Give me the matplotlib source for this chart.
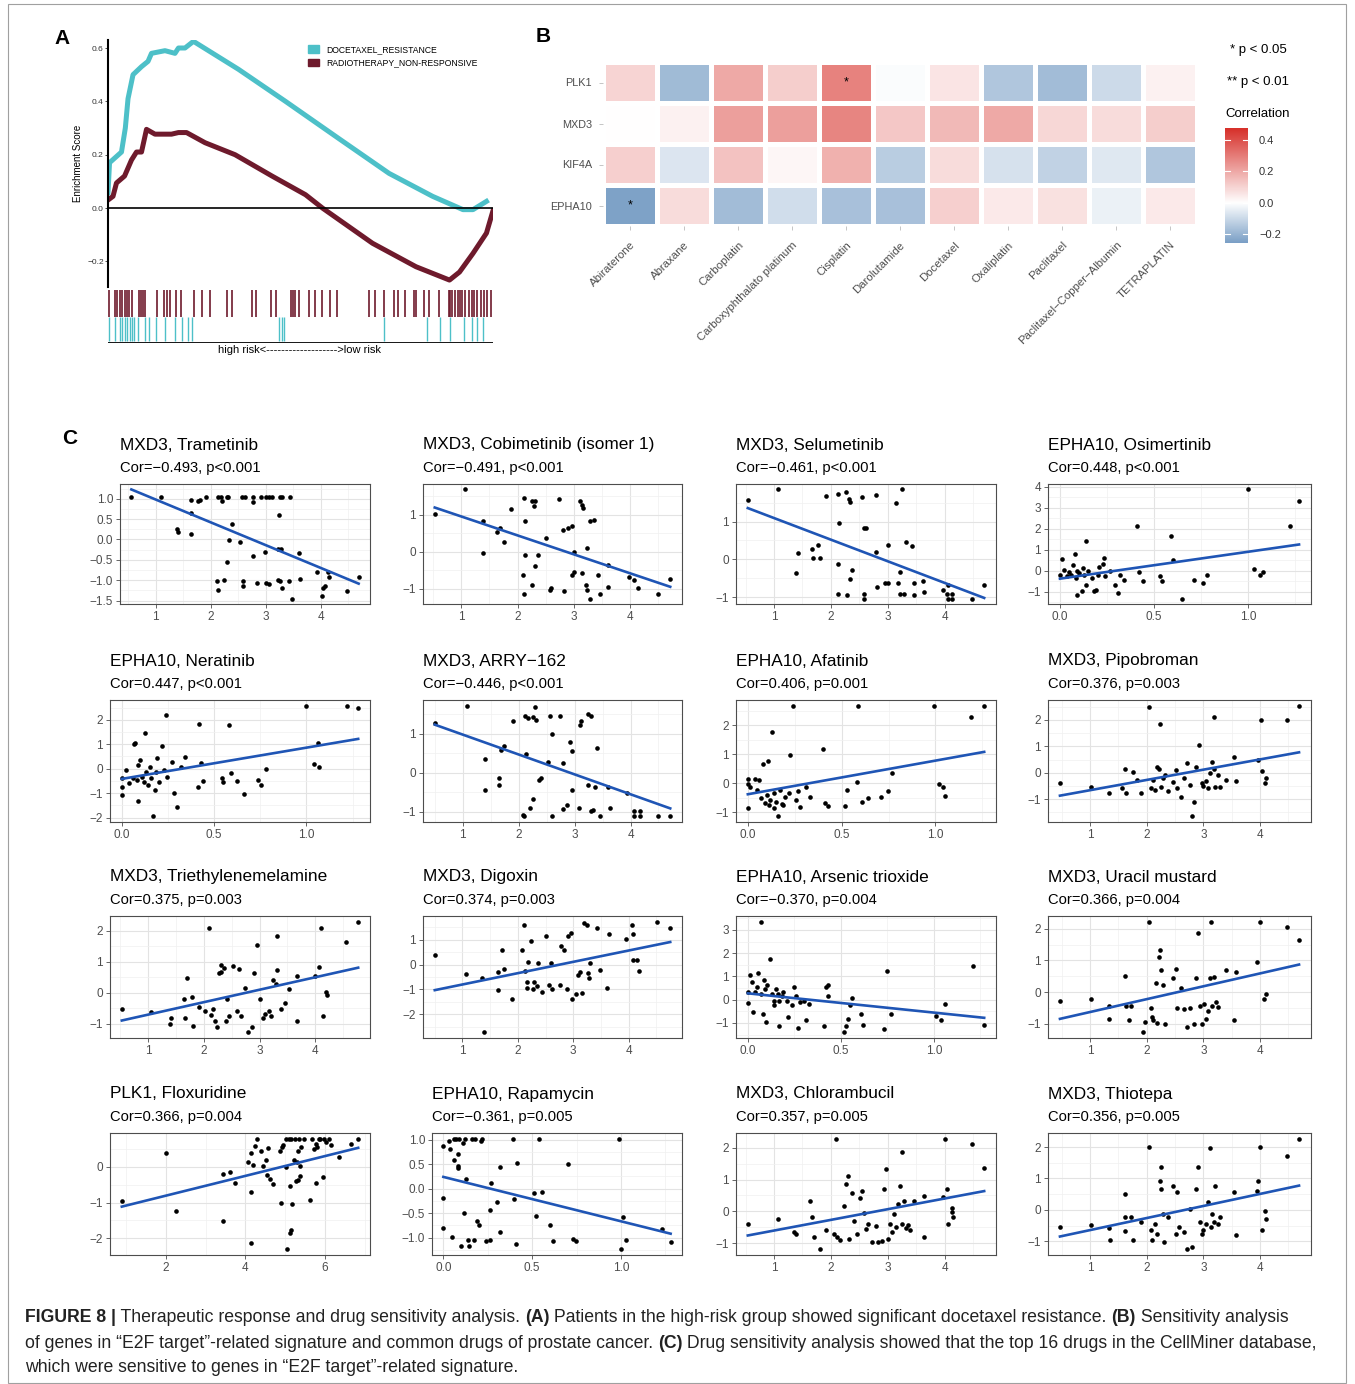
import numpy as np
import matplotlib
matplotlib.use('Agg')
import matplotlib.pyplot as plt
from matplotlib.colors import LinearSegmentedColormap, Normalize
from matplotlib.patches import Patch, Rectangle
from matplotlib.ticker import AutoMinorLocator

plt.rcParams['font.family'] = ['Liberation Sans', 'DejaVu Sans']

W, H = 1355, 1384

# ---------------- panel A data (GSEA running score) ----------------
cyan_x = [0, .004, .035, .045, .052, .065, .087, .104, .113, .148, .174, .183, .200, .222,
          .339, .461, .600, .730, .843, .922, .948, .983]
cyan_y = [0.057, 0.17, 0.21, 0.30, 0.41, 0.50, 0.53, 0.55, 0.58, 0.59, 0.58, 0.60, 0.60, 0.625,
          0.52, 0.40, 0.26, 0.13, 0.044, -0.006, -0.006, 0.025]
maroon_x = [0, .013, .022, .043, .061, .074, .087, .100, .122, .165, .183, .204, .252, .330,
            .426, .513, .557, .687, .800, .887, .913, .948, .983, 1.0]
maroon_y = [0.03, 0.044, 0.094, 0.12, 0.18, 0.21, 0.21, 0.295, 0.277, 0.277, 0.283, 0.283, 0.245,
            0.20, 0.12, 0.05, 0.0, -0.132, -0.22, -0.27, -0.24, -0.17, -0.094, -0.01]
maroon_hits = [0.000, 0.016, 0.022, 0.029, 0.035, 0.042, 0.048, 0.054, 0.061, 0.078, 0.083, 0.089,
               0.094, 0.126, 0.145, 0.152, 0.159, 0.176, 0.189, 0.222, 0.243, 0.263, 0.309, 0.322,
               0.374, 0.383, 0.424, 0.435, 0.474, 0.480, 0.485, 0.496, 0.523, 0.537, 0.557, 0.578,
               0.594, 0.678, 0.694, 0.717, 0.743, 0.755, 0.772, 0.796, 0.800, 0.822, 0.835, 0.861,
               0.887, 0.891, 0.896, 0.904, 0.911, 0.917, 0.922, 0.930, 0.939, 0.946, 0.952, 0.961,
               0.970, 0.978, 0.987, 0.996]
cyan_hits = [0.000, 0.016, 0.029, 0.035, 0.042, 0.048, 0.055, 0.061, 0.067, 0.076, 0.094, 0.106,
             0.123, 0.146, 0.174, 0.191, 0.206, 0.216, 0.445, 0.452, 0.458, 0.717, 0.830, 0.865,
             0.889, 0.926, 0.946, 0.961, 0.977]
gsea_names = ['DOCETAXEL_RESISTANCE', 'RADIOTHERAPY_NON-RESPONSIVE']

# ---------------- panel B data (correlation heatmap) ----------------
genes = ['PLK1', 'MXD3', 'KIF4A', 'EPHA10']
drugs = ['Abiraterone', 'Abraxane', 'Carboplatin', 'Carboxyphthalato platinum', 'Cisplatin',
         'Darolutamide', 'Docetaxel', 'Oxaliplatin', 'Paclitaxel', 'Paclitaxel\u2212Copper\u2212Albumin',
         'TETRAPLATIN']
corr = [
    [0.10, -0.185, 0.20, 0.115, 0.29, -0.01, 0.06, -0.155, -0.18, -0.10, 0.03],
    [0.0, 0.03, 0.22, 0.22, 0.28, 0.13, 0.16, 0.20, 0.09, 0.08, 0.115],
    [0.11, -0.07, 0.14, 0.02, 0.18, -0.135, 0.08, -0.08, -0.12, -0.06, -0.155],
    [-0.25, 0.08, -0.18, -0.09, -0.17, -0.17, 0.11, 0.05, 0.07, -0.04, 0.05],
]
stars = [(0, 4, '*'), (3, 0, '*')]
corr_lo, corr_hi = -0.257, 0.476

# ---------------- panel C data (scatter plots) ----------------
titles = ['MXD3, Trametinib', 'MXD3, Cobimetinib (isomer 1)', 'MXD3, Selumetinib', 'EPHA10, Osimertinib',
          'EPHA10, Neratinib', 'MXD3, ARRY\u2212162', 'EPHA10, Afatinib', 'MXD3, Pipobroman',
          'MXD3, Triethylenemelamine', 'MXD3, Digoxin', 'EPHA10, Arsenic trioxide', 'MXD3, Uracil mustard',
          'PLK1, Floxuridine', 'EPHA10, Rapamycin', 'MXD3, Chlorambucil', 'MXD3, Thiotepa']
subtitles = ['Cor=\u22120.493, p<0.001', 'Cor=\u22120.491, p<0.001', 'Cor=\u22120.461, p<0.001',
             'Cor=0.448, p<0.001', 'Cor=0.447, p<0.001', 'Cor=\u22120.446, p<0.001',
             'Cor=0.406, p=0.001', 'Cor=0.376, p=0.003', 'Cor=0.375, p=0.003', 'Cor=0.374, p=0.003',
             'Cor=\u22120.370, p=0.004', 'Cor=0.366, p=0.004', 'Cor=0.366, p=0.004',
             'Cor=\u22120.361, p=0.005', 'Cor=0.357, p=0.005', 'Cor=0.356, p=0.005']
xticks = [[1, 2, 3, 4], [1, 2, 3, 4], [1, 2, 3, 4], [0, 0.5, 1.0],
          [0, 0.5, 1.0], [1, 2, 3, 4], [0, 0.5, 1.0], [1, 2, 3, 4],
          [1, 2, 3, 4], [1, 2, 3, 4], [0, 0.5, 1.0], [1, 2, 3, 4],
          [2, 4, 6], [0, 0.5, 1.0], [1, 2, 3, 4], [1, 2, 3, 4]]
yticks = [[-1.5, -1.0, -0.5, 0.0, 0.5, 1.0], [-1, 0, 1], [-1, 0, 1], [-1, 0, 1, 2, 3, 4],
          [-2, -1, 0, 1, 2], [-1, 0, 1], [-1, 0, 1, 2], [-1, 0, 1, 2],
          [-1, 0, 1, 2], [-2, -1, 0, 1], [-1, 0, 1, 2, 3], [-1, 0, 1, 2],
          [-2, -1, 0], [-1.0, -0.5, 0.0, 0.5, 1.0], [-1, 0, 1, 2], [-1, 0, 1, 2]]

pts = [
    # 1 Trametinib
    [(0.56, 1.04), (1.09, 1.04), (1.65, 0.97), (1.78, 0.94), (1.81, 0.98), (1.92, 1.04), (2.14, 1.04),
     (2.18, 1.04), (2.2, 0.94), (2.29, 1.04), (2.32, 1.04), (2.57, 1.04), (2.62, 1.04), (2.77, 1.04),
     (2.77, 0.93), (2.92, 1.04), (3.0, 1.04), (3.07, 1.04), (3.11, 1.04), (3.26, 1.04), (3.29, 1.04),
     (3.44, 1.04), (1.65, 0.64), (1.39, 0.26), (1.4, 0.18), (1.65, 0.14), (2.39, 0.38), (2.33, -0.01),
     (2.54, -0.06), (3.25, 0.60), (3.23, -0.23), (3.28, -0.23), (2.98, -0.31), (2.77, -0.41),
     (2.29, -0.56), (3.61, -0.33), (2.12, -1.03), (2.24, -0.99), (2.14, -1.25), (2.59, -1.02),
     (2.58, -1.15), (2.84, -1.07), (3.0, -1.07), (3.06, -1.09), (3.23, -0.99), (3.26, -1.03),
     (3.29, -1.19), (3.43, -1.03), (3.47, -1.45), (3.62, -0.98), (3.94, -0.81), (4.05, -1.18),
     (4.07, -1.14), (4.03, -1.38), (4.14, -0.81), (4.16, -0.91), (4.48, -1.27), (4.69, -0.91)],
    # 2 Cobimetinib
    [(0.53, 1.02), (1.07, 1.68), (1.39, 0.84), (1.39, -0.03), (1.64, 0.53), (1.69, 0.64), (1.76, 0.27),
     (1.89, 1.15), (2.11, 1.44), (2.14, 0.82), (2.26, 1.36), (2.29, 1.23), (2.31, 1.36), (2.51, 0.36),
     (2.74, 1.41), (2.8, 0.58), (2.89, 0.64), (2.96, 0.68), (3.0, 0.0), (3.1, 1.38), (3.14, 1.25),
     (3.17, 1.18), (3.24, 0.11), (3.29, 0.82), (3.36, 0.86), (2.11, -1.14), (2.1, -0.64), (2.14, -0.09),
     (2.26, -0.91), (2.31, -0.38), (2.37, -0.09), (2.57, -1.05), (2.6, -0.98), (2.83, -1.06),
     (2.96, -0.64), (3.01, -0.55), (3.14, -0.59), (3.21, -0.91), (3.24, -1.05), (3.29, -1.27),
     (3.46, -1.15), (3.43, -0.64), (3.61, -0.35), (3.61, -0.96), (3.97, -0.68), (4.07, -0.78),
     (4.14, -0.98), (4.5, -1.14), (4.71, -0.75)],
    # 3 Selumetinib
    [(0.54, 1.58), (1.07, 1.85), (1.38, -0.37), (1.42, 0.16), (1.66, 0.28), (1.68, 0.03), (1.8, 0.03),
     (1.77, 0.38), (1.92, 1.67), (2.13, 1.74), (2.14, 0.96), (2.13, -0.13), (2.13, -0.91), (2.27, 1.79),
     (2.31, 1.61), (2.34, 1.52), (2.37, -0.28), (2.34, -0.51), (2.28, -0.95), (2.55, 1.65), (2.58, 0.83),
     (2.62, 0.84), (2.58, -0.91), (2.58, -1.04), (2.79, 1.7), (2.79, 0.2), (2.8, -0.73), (2.94, -0.64),
     (3.0, 0.38), (3.0, -0.64), (3.14, 1.49), (3.17, -0.64), (3.25, 1.85), (3.21, -0.33), (3.21, -0.91),
     (3.28, -0.93), (3.31, 0.47), (3.42, 0.34), (3.45, -0.64), (3.46, -0.95), (3.61, -0.58),
     (3.63, -0.86), (3.96, -0.82), (4.03, -0.93), (4.06, -0.68), (4.06, -1.04), (4.13, -0.93),
     (4.13, -1.04), (4.48, -1.04), (4.69, -0.67)],
    # 4 Osimertinib
    [(0.0, -0.19), (0.01, 0.57), (0.02, 0.05), (0.04, -0.27), (0.05, -0.06), (0.06, -0.19), (0.07, 0.28),
     (0.08, 0.79), (0.085, -0.35), (0.09, -0.03), (0.09, -1.13), (0.1, -0.11), (0.115, -0.98),
     (0.12, 0.13), (0.13, -0.19), (0.14, 1.42), (0.14, -0.66), (0.15, -0.03), (0.17, -0.35),
     (0.18, -0.98), (0.19, -0.9), (0.2, -0.19), (0.21, 0.16), (0.23, 0.31), (0.235, 0.63), (0.24, -0.27),
     (0.265, -0.03), (0.29, -0.66), (0.31, -1.06), (0.32, -0.19), (0.34, -0.43), (0.41, 2.14),
     (0.42, -0.06), (0.44, -0.47), (0.53, -0.27), (0.54, -0.47), (0.59, 1.67), (0.6, 0.52), (0.65, -1.32),
     (0.71, -0.43), (0.76, -0.58), (0.78, -0.19), (1.0, 3.87), (1.03, 0.08), (1.06, -0.19),
     (1.08, -0.08), (1.22, 2.14), (1.27, 3.3)],
    # 5 Neratinib
    [(0.0, -0.39), (0.0, -0.73), (0.0, -1.07), (0.02, -0.05), (0.04, -0.59), (0.06, -0.39), (0.065, 1.0),
     (0.07, 1.03), (0.08, -0.46), (0.09, 0.15), (0.09, -1.3), (0.1, 0.35), (0.11, -0.35), (0.12, -0.53),
     (0.125, 1.46), (0.13, -0.12), (0.14, -0.66), (0.15, 0.08), (0.16, -0.39), (0.17, -1.95),
     (0.18, -0.86), (0.185, -0.12), (0.19, 0.42), (0.2, -0.53), (0.215, 0.92), (0.23, -0.05),
     (0.24, 2.18), (0.245, -0.32), (0.27, 0.28), (0.28, -1.0), (0.3, -1.57), (0.32, 0.05), (0.34, 0.49),
     (0.41, -0.73), (0.42, 1.81), (0.43, 0.24), (0.44, -0.49), (0.54, -0.39), (0.55, -0.53),
     (0.58, 1.77), (0.59, -0.19), (0.625, -0.49), (0.66, -1.03), (0.74, -0.46), (0.755, -0.66),
     (0.78, -0.03), (1.0, 2.58), (1.04, 0.19), (1.06, 1.03), (1.07, 0.08), (1.22, 2.58), (1.28, 2.49)],
    # 6 ARRY-162
    [(0.5, 1.28), (1.07, 1.73), (1.39, -0.43), (1.4, 0.35), (1.64, -0.12), (1.64, -0.31), (1.69, 0.6),
     (1.74, 0.68), (1.89, 1.34), (2.07, -1.08), (2.09, -1.12), (2.11, 1.47), (2.14, 0.49), (2.17, 1.41),
     (2.21, -0.89), (2.26, -0.66), (2.26, 1.43), (2.29, 1.7), (2.31, 1.36), (2.37, -0.19), (2.4, -0.14),
     (2.53, 0.28), (2.56, 1.47), (2.6, 1.0), (2.6, -1.12), (2.79, -0.94), (2.79, 0.26), (2.74, 1.47),
     (2.86, -0.83), (2.91, 0.79), (2.96, 0.56), (2.96, -0.43), (3.07, -0.91), (3.09, 1.22), (3.11, 1.33),
     (3.24, 1.51), (3.29, 1.47), (3.24, -0.31), (3.29, -0.97), (3.33, -0.95), (3.36, -0.36),
     (3.4, 0.65), (3.46, -1.11), (3.6, -0.36), (3.64, -0.91), (3.94, -0.51), (4.07, -0.97),
     (4.07, -1.12), (4.17, -0.97), (4.17, -1.12), (4.5, -1.12), (4.71, -1.12)],
    # 7 Afatinib
    [(0.0, -0.86), (0.0, -0.02), (0.0, 0.14), (0.01, -0.14), (0.04, 0.14), (0.05, -0.23), (0.06, 0.11),
     (0.07, -0.51), (0.08, 0.66), (0.09, -0.68), (0.1, -0.4), (0.11, 0.76), (0.115, -0.74),
     (0.12, -0.57), (0.13, 1.77), (0.14, -0.86), (0.14, -0.34), (0.15, -0.63), (0.16, -1.14),
     (0.17, -0.23), (0.18, -0.72), (0.19, -0.74), (0.2, -0.46), (0.22, -0.34), (0.225, 0.97),
     (0.24, 2.65), (0.255, -0.57), (0.27, -0.28), (0.28, -0.8), (0.31, -0.11), (0.33, -0.46), (0.4, 1.2),
     (0.41, -0.68), (0.425, -0.78), (0.52, -0.78), (0.53, -0.23), (0.58, 0.06), (0.59, 2.65),
     (0.61, -0.63), (0.64, -0.51), (0.71, -0.48), (0.745, -0.28), (0.77, 0.34), (0.99, 2.68),
     (1.02, -0.02), (1.04, -0.11), (1.05, -0.43), (1.19, 2.3), (1.26, 2.68)],
    # 8 Pipobroman
    [(0.47, -0.4), (1.01, -0.53), (1.33, -0.75), (1.57, -0.59), (1.61, 0.16), (1.64, -0.78), (1.76, 0.04),
     (1.83, -0.28), (1.9, -0.78), (2.04, 2.5), (2.07, -0.59), (2.11, -0.28), (2.14, -0.65), (2.19, 0.2),
     (2.21, 0.13), (2.23, 1.85), (2.26, -0.53), (2.29, -0.21), (2.33, -0.09), (2.37, -0.68),
     (2.47, -0.34), (2.51, 0.1), (2.54, -0.59), (2.61, -0.9), (2.66, -0.21), (2.71, 0.38), (2.76, -0.46),
     (2.8, -1.65), (2.83, -1.09), (2.87, 0.2), (2.93, 1.04), (2.97, -0.38), (3.0, -0.5), (3.04, -0.3),
     (3.09, -0.59), (3.11, -0.02), (3.16, 0.41), (3.19, 2.1), (3.19, 0.16), (3.21, -0.53), (3.26, -0.09),
     (3.29, -0.53), (3.4, -0.28), (3.54, 0.6), (3.57, -0.3), (3.97, 0.48), (4.01, 2.0), (4.04, 0.06),
     (4.09, -0.38), (4.11, -0.21), (4.47, 1.98), (4.69, 2.54)],
    # 9 Triethylenemelamine
    [(0.53, -0.53), (1.06, -0.62), (1.39, -1.01), (1.41, -0.83), (1.64, -0.19), (1.67, -0.8), (1.7, 0.48),
     (1.79, -0.13), (1.81, -1.06), (1.91, -0.45), (2.03, -0.59), (2.1, 2.07), (2.13, -0.72), (2.17, -0.51),
     (2.2, -0.9), (2.24, -1.12), (2.27, 0.64), (2.31, 0.9), (2.31, 0.66), (2.36, 0.8), (2.39, -0.9),
     (2.41, -0.19), (2.46, -0.74), (2.53, 0.87), (2.6, -0.59), (2.63, 0.77), (2.67, -0.74), (2.74, 0.16),
     (2.79, -1.28), (2.86, -1.12), (2.91, 0.62), (2.96, 1.54), (3.0, -0.21), (3.06, -0.8), (3.1, -0.69),
     (3.17, -0.59), (3.21, -0.74), (3.24, 0.4), (3.29, 0.27), (3.31, 1.81), (3.31, 0.72), (3.39, -0.53),
     (3.46, -0.32), (3.53, 0.13), (3.67, -0.9), (3.67, 0.53), (4.0, 0.53), (4.07, 0.83), (4.1, 2.07),
     (4.13, -0.74), (4.2, 0.02), (4.21, -0.09), (4.56, 1.62), (4.77, 2.29)],
    # 10 Digoxin
    [(0.5, 0.4), (1.07, -0.37), (1.36, -0.53), (1.39, -2.73), (1.65, -0.31), (1.65, -1.03), (1.72, 0.57),
     (1.75, -0.17), (1.89, -1.37), (2.08, 0.57), (2.11, 1.6), (2.13, -0.27), (2.16, -0.71), (2.16, -0.93),
     (2.19, 0.09), (2.23, 0.93), (2.27, -1.0), (2.29, -0.71), (2.34, -0.87), (2.37, 0.07), (2.44, -1.11),
     (2.51, 1.16), (2.56, -0.84), (2.59, 0.07), (2.62, -1.0), (2.76, -0.84), (2.77, 0.73), (2.83, 0.6),
     (2.88, -0.97), (2.91, 1.13), (2.95, 1.27), (2.98, -1.4), (3.05, -1.2), (3.09, -0.4), (3.13, -0.31),
     (3.16, -1.13), (3.19, 1.69), (3.24, 1.6), (3.26, -0.33), (3.28, -0.56), (3.31, 0.07), (3.42, 1.47),
     (3.48, -0.2), (3.6, -0.93), (3.64, 1.24), (3.96, 1.03), (4.06, 1.6), (4.08, 1.23), (4.08, 0.2),
     (4.15, 0.2), (4.18, -0.27), (4.51, 1.73), (4.75, 1.47)],
    # 11 Arsenic trioxide
    [(0.0, 0.35), (0.0, -0.14), (0.01, 1.04), (0.02, 0.75), (0.03, -0.53), (0.04, 0.35), (0.05, 0.55),
     (0.056, 1.14), (0.07, 3.36), (0.07, 0.25), (0.08, -0.63), (0.085, 0.84), (0.09, 0.45), (0.1, -0.96),
     (0.105, 0.61), (0.12, 1.75), (0.13, 0.25), (0.14, -0.04), (0.14, -0.24), (0.15, 0.45), (0.16, 0.25),
     (0.17, -0.04), (0.17, -1.12), (0.185, 0.16), (0.19, 0.35), (0.21, -0.04), (0.215, -0.73),
     (0.24, -0.24), (0.25, 0.55), (0.26, 0.16), (0.27, -1.22), (0.28, -0.1), (0.3, -0.04), (0.31, -0.88),
     (0.33, -0.18), (0.41, -1.12), (0.42, 0.55), (0.43, 0.16), (0.43, 0.65), (0.515, -1.41),
     (0.53, -1.12), (0.54, -0.82), (0.55, -0.24), (0.56, 0.06), (0.61, -0.63), (0.62, -1.08),
     (0.73, -1.27), (0.75, 1.24), (0.77, -0.63), (1.01, -0.69), (1.04, -0.88), (1.06, -0.18),
     (1.21, 1.45), (1.27, -1.1)],
    # 12 Uracil mustard
    [(0.47, -0.27), (1.01, -0.21), (1.33, -0.43), (1.33, -0.85), (1.61, 0.51), (1.64, -0.43), (1.69, -0.9),
     (1.73, -0.43), (1.94, -1.28), (1.97, -0.94), (2.04, 2.23), (2.07, -0.51), (2.09, -0.8), (2.11, -0.9),
     (2.16, 0.27), (2.19, -0.98), (2.21, 1.12), (2.23, 1.33), (2.26, 0.69), (2.29, 0.21), (2.33, -1.01),
     (2.47, 0.43), (2.51, 0.74), (2.54, -0.51), (2.61, 0.13), (2.66, -0.53), (2.71, -1.12), (2.76, -0.51),
     (2.83, -1.01), (2.87, 0.43), (2.9, 1.86), (2.94, -0.43), (2.97, -1.01), (3.01, -0.37), (3.04, -0.85),
     (3.09, -0.59), (3.11, 0.43), (3.14, 2.23), (3.16, -0.43), (3.19, 0.48), (3.23, -0.32), (3.26, -0.48),
     (3.4, 0.69), (3.54, -0.9), (3.57, 0.64), (3.94, 0.96), (4.0, 2.23), (4.07, -0.21), (4.11, -0.05),
     (4.47, 2.07), (4.69, 1.65)],
    # 13 Floxuridine
    [(0.9, -0.97), (2.02, 0.4), (2.25, -1.24), (3.44, -0.19), (3.44, -1.52), (3.62, -0.14), (3.73, -0.44),
     (4.07, 0.14), (4.13, -0.7), (4.15, -2.13), (4.15, 0.4), (4.2, 0.05), (4.23, 0.58), (4.28, 0.8),
     (4.39, 0.44), (4.45, 0.03), (4.51, 0.19), (4.53, -0.23), (4.57, 0.54), (4.61, -0.33), (4.7, -0.47),
     (4.88, 0.44), (4.9, -1.0), (4.92, 0.56), (4.95, 0.61), (5.03, 0.0), (5.03, 0.8), (5.04, -2.32),
     (5.1, 0.8), (5.11, -0.54), (5.11, -1.85), (5.14, -1.78), (5.15, 0.8), (5.18, -1.05), (5.22, 0.19),
     (5.24, 0.8), (5.28, -0.4), (5.3, 0.14), (5.32, 0.44), (5.33, -0.38), (5.34, 0.8), (5.36, 0.03),
     (5.38, -0.25), (5.4, 0.56), (5.48, 0.8), (5.63, -0.94), (5.67, 0.8), (5.71, 0.5), (5.76, 0.66),
     (5.78, -0.44), (5.8, 0.56), (5.84, 0.78), (5.87, 0.8), (5.94, -0.28), (5.97, 0.8), (6.02, 0.7),
     (6.09, 0.8), (6.15, 0.63), (6.34, 0.28), (6.66, 0.66), (6.83, 0.8)],
    # 14 Rapamycin
    [(0.0, 0.87), (0.0, -0.19), (0.0, -0.81), (0.03, 0.98), (0.04, 0.81), (0.05, -0.98), (0.06, 1.02),
     (0.06, 0.59), (0.07, 1.02), (0.08, 0.46), (0.08, 0.41), (0.085, 0.7), (0.09, 1.02), (0.1, -1.17),
     (0.11, 0.93), (0.115, -0.5), (0.12, 1.02), (0.13, 0.19), (0.14, -1.04), (0.145, -1.17), (0.16, 1.02),
     (0.17, -1.04), (0.18, 1.02), (0.19, -0.67), (0.2, -0.74), (0.21, 0.98), (0.22, 1.02), (0.24, -1.07),
     (0.26, -1.04), (0.265, -0.44), (0.27, 0.11), (0.3, -0.28), (0.32, 0.43), (0.32, -0.89), (0.39, 1.02),
     (0.4, -0.21), (0.41, -1.13), (0.415, 0.52), (0.51, -0.09), (0.54, 1.02), (0.555, -0.07),
     (0.52, -0.56), (0.6, -0.74), (0.615, -1.07), (0.7, 0.5), (0.73, -1.02), (0.745, -1.07), (0.99, 1.02),
     (1.01, -0.58), (1.0, -1.24), (1.03, -1.05), (1.23, -0.82), (1.28, -1.08)],
    # 15 Chlorambucil
    [(0.54, -0.39), (1.07, -0.24), (1.35, -0.65), (1.38, -0.7), (1.63, 0.33), (1.66, -0.19), (1.7, -0.8),
     (1.8, -1.2), (1.92, -0.58), (2.06, -0.7), (2.08, 2.27), (2.11, -0.8), (2.15, -0.91), (2.23, 0.18),
     (2.27, 0.87), (2.3, 1.1), (2.32, -0.86), (2.37, 0.59), (2.41, -0.29), (2.46, -0.7), (2.51, 0.41),
     (2.54, 0.64), (2.58, -0.06), (2.61, -0.55), (2.65, -0.39), (2.72, -0.96), (2.79, -0.47),
     (2.83, -0.96), (2.89, -0.93), (2.93, 0.69), (2.96, 1.34), (3.0, -0.86), (3.04, -0.39), (3.07, -0.65),
     (3.11, -0.08), (3.14, -0.49), (3.17, 0.23), (3.21, 0.79), (3.24, -0.39), (3.25, 1.88), (3.28, 0.33),
     (3.31, -0.52), (3.35, -0.44), (3.39, -0.6), (3.45, 0.33), (3.63, 0.48), (3.63, -0.8), (3.96, 0.45),
     (4.03, 0.69), (4.06, -0.39), (4.13, 0.12), (4.13, -0.03), (4.15, -0.19), (4.01, 2.29), (4.48, 2.13),
     (4.69, 1.36)],
    # 16 Thiotepa
    [(0.47, -0.55), (1.01, -0.49), (1.33, -0.57), (1.36, -0.97), (1.61, 0.51), (1.61, -0.23), (1.61, -0.67),
     (1.73, -0.23), (1.76, -0.97), (1.9, -0.39), (2.04, 2.0), (2.07, -0.63), (2.09, -0.95), (2.14, -0.44),
     (2.19, -0.76), (2.23, 0.93), (2.26, 1.35), (2.26, 0.66), (2.29, -0.13), (2.31, -1.02), (2.37, -0.23),
     (2.47, 0.77), (2.51, -0.76), (2.54, 0.56), (2.57, -0.55), (2.66, -0.71), (2.71, -1.26), (2.76, 0.03),
     (2.8, -1.18), (2.87, 0.66), (2.9, 1.35), (2.94, -0.39), (2.97, -0.76), (3.0, -0.63), (3.04, -0.44),
     (3.09, 0.24), (3.11, 1.98), (3.14, -0.55), (3.16, -0.13), (3.19, -0.39), (3.21, 0.77), (3.26, -0.44),
     (3.3, -0.23), (3.54, 0.56), (3.57, -0.81), (3.94, 0.61), (3.97, 0.93), (4.0, 2.0), (4.04, -0.63),
     (4.09, -0.04), (4.11, -0.28), (4.47, 1.72), (4.69, 2.27)],
]

caption = [
    [('FIGURE 8 |', 'bold'), (' Therapeutic response and drug sensitivity analysis. ', 'normal'),
     ('(A)', 'bold'), (' Patients in the high-risk group showed significant docetaxel resistance. ', 'normal'),
     ('(B)', 'bold'), (' Sensitivity analysis', 'normal')],
    [('of genes in \u201cE2F target\u201d-related signature and common drugs of prostate cancer. ', 'normal'),
     ('(C)', 'bold'), (' Drug sensitivity analysis showed that the top 16 drugs in the CellMiner database,', 'normal')],
    [('which were sensitive to genes in \u201cE2F target\u201d-related signature.', 'normal')],
]


def px_axes(fig, l, t, r, b):
    return fig.add_axes([l / W, 1 - b / H, (r - l) / W, (b - t) / H])


def fmt(v, dec):
    s = f'{v:.1f}' if dec else f'{v:g}'
    return s.replace('-', '\u2212')


fig = plt.figure(figsize=(W / 100, H / 100), dpi=100)
fig.patches.append(Rectangle((8 / W, 1 / H), 1338 / W, 1 - 5 / H, transform=fig.transFigure,
                             fill=False, edgecolor='#A0A0A0', lw=0.8))

# ---------------- A ----------------
cyan, maroon = '#4DC0C8', '#6E1A2C'
axA = px_axes(fig, 108, 40, 493, 287)
axA.plot(cyan_x, cyan_y, color=cyan, lw=3.6, solid_joinstyle='round')
axA.plot(maroon_x, maroon_y, color=maroon, lw=3.6, solid_joinstyle='round')
axA.axhline(0, color='black', lw=1.2)
axA.set_xlim(0, 1)
axA.set_ylim(-0.296, 0.63)
for s in ['top', 'right', 'bottom']:
    axA.spines[s].set_visible(False)
axA.spines['left'].set_linewidth(1.5)
axA.set_xticks([])
axA.set_yticks([-0.2, 0.0, 0.2, 0.4, 0.6])
axA.set_yticklabels([fmt(v, True) for v in [-0.2, 0.0, 0.2, 0.4, 0.6]])
axA.tick_params(axis='y', labelsize=6, length=2, width=0.6, pad=1, colors='#333333')
axA.set_ylabel('Enrichment Score', fontsize=7, labelpad=3)
axA.legend(handles=[Patch(color=cyan), Patch(color=maroon)], labels=gsea_names,
           loc='upper left', bbox_to_anchor=(0.52, 0.98), frameon=False, fontsize=6.2,
           handlelength=1.3, handleheight=0.9, borderpad=0, borderaxespad=0, labelspacing=0.55,
           handletextpad=0.8)

axR = px_axes(fig, 108, 290, 493, 343)
axR.vlines(maroon_hits, 0.5, 1.0, color=maroon, lw=1.2)
axR.vlines(cyan_hits, 0.04, 0.5, color=cyan, lw=1.0)
axR.set_xlim(-0.002, 1.002)
axR.set_ylim(0, 1)
axR.axis('off')
axR.axhline(0.0, color='black', lw=2)
fig.text(300 / W, 1 - 350 / H, 'high risk<------------------->low risk', fontsize=8, ha='center', va='center')

# ---------------- B ----------------
cmap = LinearSegmentedColormap.from_list('corr', ['#0B4F96', '#FFFFFF', '#D7312B'])
norm = Normalize(-corr_hi, corr_hi)
axB = px_axes(fig, 603, 62, 1197, 226)
arr = np.array(corr)
axB.pcolormesh(np.arange(len(drugs) + 1) - 0.5, np.arange(len(genes) + 1) - 0.5, arr,
               cmap=cmap, norm=norm, edgecolor='white', lw=2.2)
for r, c, s in stars:
    axB.text(c, r, s, ha='center', va='center', fontsize=9)
axB.set_xlim(-0.5, len(drugs) - 0.5)
axB.set_ylim(len(genes) - 0.5, -0.5)
for s in axB.spines.values():
    s.set_visible(False)
axB.set_xticks(range(len(drugs)))
axB.set_xticklabels(drugs, rotation=45, ha='right', rotation_mode='anchor', fontsize=8.2, color='#4D4D4D')
axB.set_yticks(range(len(genes)))
axB.set_yticklabels(genes, fontsize=7.8, color='#4D4D4D')
axB.tick_params(length=3, width=0.6, color='#BBBBBB', pad=5)
axB.tick_params(axis='x', pad=7)

fig.text(1230 / W, 1 - 50 / H, '* p < 0.05', fontsize=9.5, va='center')
fig.text(1227 / W, 1 - 82 / H, '** p < 0.01', fontsize=9.5, va='center')
fig.text(1225 / W, 1 - 114 / H, 'Correlation', fontsize=9.5, va='center')
axCb = px_axes(fig, 1225, 128, 1248, 243)
grad = np.linspace(corr_lo, corr_hi, 200).reshape(-1, 1)
axCb.imshow(grad, cmap=cmap, norm=norm, aspect='auto', origin='lower', extent=[0, 1, corr_lo, corr_hi])
axCb.set_xticks([])
axCb.yaxis.tick_right()
axCb.set_yticks([-0.2, 0.0, 0.2, 0.4])
axCb.set_yticklabels([fmt(v, True) for v in [-0.2, 0.0, 0.2, 0.4]])
axCb.tick_params(axis='y', length=0, labelsize=8, colors='#333333', pad=8)
for v in [-0.2, 0.0, 0.2, 0.4]:
    axCb.plot([0, 0.2], [v, v], color='white', lw=0.8)
    axCb.plot([0.8, 1], [v, v], color='white', lw=0.8)
axCb.set_xlim(0, 1)
axCb.set_ylim(corr_lo, corr_hi)
for s in axCb.spines.values():
    s.set_visible(False)

# ---------------- C ----------------
row_tb = [(484, 604), (700, 822), (916, 1038), (1133, 1255)]
col_lr = [[(120, 370), (423, 682), (736, 996), (1048, 1311)],
          [(110, 370), (423, 682), (736, 996), (1048, 1311)],
          [(110, 370), (423, 682), (736, 996), (1048, 1311)],
          [(110, 370), (432, 682), (736, 996), (1048, 1311)]]
for i in range(16):
    r, c = divmod(i, 4)
    t, b = row_tb[r]
    l, rr = col_lr[r][c]
    ax = px_axes(fig, l, t, rr, b)
    xy = np.array(pts[i])
    x, y = xy[:, 0], xy[:, 1]
    ax.scatter(x, y, s=11, color='black', zorder=3, linewidths=0)
    k, c0 = np.polyfit(x, y, 1)
    xl = np.array([x.min(), x.max()])
    ax.plot(xl, k * xl + c0, color='#1F55B5', lw=1.9, zorder=4)
    ax.margins(0.05)
    xt, yt = xticks[i], yticks[i]
    ax.set_xticks(xt)
    ax.set_xticklabels([fmt(v, any(v != int(v) for v in xt)) for v in xt])
    ax.set_yticks(yt)
    ax.set_yticklabels([fmt(v, any(v != int(v) for v in yt)) for v in yt])
    ax.xaxis.set_minor_locator(AutoMinorLocator(2))
    ax.yaxis.set_minor_locator(AutoMinorLocator(2))
    ax.grid(which='major', color='#E3E3E3', lw=0.8)
    ax.grid(which='minor', color='#F0F0F0', lw=0.5)
    ax.set_axisbelow(True)
    ax.tick_params(which='major', labelsize=8.5, colors='#4D4D4D', length=3, width=0.6, pad=2)
    ax.tick_params(which='minor', length=0)
    for s in ax.spines.values():
        s.set_color('#4D4D4D')
        s.set_linewidth(0.8)
    fig.text(l / W, 1 - (t - 39) / H, titles[i], fontsize=12.4, va='center', ha='left')
    fig.text(l / W, 1 - (t - 16) / H, subtitles[i], fontsize=10.6, va='center', ha='left')

# panel letters
fig.text(62 / W, 1 - 38 / H, 'A', fontsize=15, fontweight='bold', ha='center', va='center')
fig.text(543 / W, 1 - 36 / H, 'B', fontsize=15, fontweight='bold', ha='center', va='center')
fig.text(70 / W, 1 - 438 / H, 'C', fontsize=15, fontweight='bold', ha='center', va='center')

# caption
renderer = fig.canvas.get_renderer()
for li, line in enumerate(caption):
    xpos = 25 / W
    ypos = 1 - (1318 + li * 25) / H
    for txt, wt in line:
        tobj = fig.text(xpos, ypos, txt, fontsize=12.7, fontweight=wt, va='center', ha='left',
                        color='#222222')
        xpos += tobj.get_window_extent(renderer).width / W

fig.savefig('out.png', dpi=100)
